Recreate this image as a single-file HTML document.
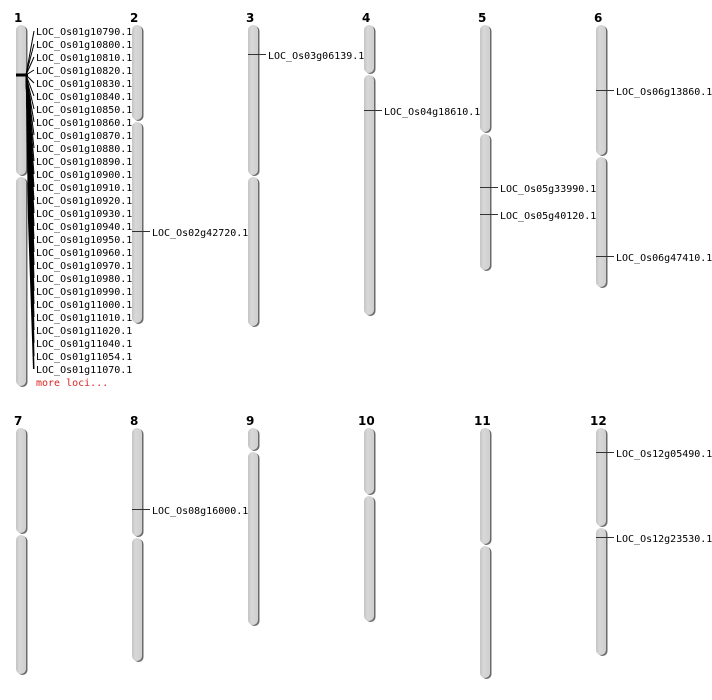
<!DOCTYPE html>
<html><head><meta charset="utf-8"><style>
html,body{margin:0;padding:0;background:#fff;width:712px;height:700px;overflow:hidden}
svg text{font-family:"DejaVu Sans Mono","Liberation Mono",monospace;font-size:10px;fill:#000}
svg text.n{font-family:"DejaVu Sans","Liberation Sans",sans-serif;font-weight:bold;font-size:12px}
</style></head><body>
<svg width="712" height="700" viewBox="0 0 712 700" xmlns="http://www.w3.org/2000/svg">
<defs>
<linearGradient id="g" x1="0" x2="1" y1="0" y2="0">
<stop offset="0" stop-color="#c4c4c4"/><stop offset="0.35" stop-color="#d8d8d8"/><stop offset="1" stop-color="#cfcfcf"/>
</linearGradient>
</defs>
<g stroke="none">
<!-- shadows -->
<g fill="#6a6a6a">
<rect x="17.5" y="26" width="10" height="150" rx="5"/><rect x="17.5" y="178" width="10" height="209" rx="5"/>
<rect x="133.5" y="26" width="10" height="95" rx="5"/><rect x="133.5" y="123" width="10" height="201" rx="5"/>
<rect x="249.5" y="26" width="10" height="150" rx="5"/><rect x="249.5" y="178" width="10" height="149" rx="5"/>
<rect x="365.5" y="26" width="10" height="48" rx="5"/><rect x="365.5" y="76" width="10" height="240" rx="5"/>
<rect x="481.5" y="26" width="10" height="107" rx="5"/><rect x="481.5" y="135" width="10" height="136" rx="5"/>
<rect x="597.5" y="26" width="10" height="130" rx="5"/><rect x="597.5" y="158" width="10" height="130" rx="5"/>
<rect x="17.5" y="429" width="10" height="105" rx="5"/><rect x="17.5" y="536" width="10" height="139" rx="5"/>
<rect x="133.5" y="429" width="10" height="108" rx="5"/><rect x="133.5" y="539" width="10" height="123" rx="5"/>
<rect x="249.5" y="429" width="10" height="22" rx="5"/><rect x="249.5" y="453" width="10" height="173" rx="5"/>
<rect x="365.5" y="429" width="10" height="66" rx="5"/><rect x="365.5" y="497" width="10" height="125" rx="5"/>
<rect x="481.5" y="429" width="10" height="116" rx="5"/><rect x="481.5" y="547" width="10" height="132" rx="5"/>
<rect x="597.5" y="429" width="10" height="98" rx="5"/><rect x="597.5" y="529" width="10" height="127" rx="5"/>
</g>
<g fill="url(#g)">
<rect x="16" y="25" width="10" height="150" rx="5"/><rect x="16" y="177" width="10" height="209" rx="5"/>
<rect x="132" y="25" width="10" height="95" rx="5"/><rect x="132" y="122" width="10" height="201" rx="5"/>
<rect x="248" y="25" width="10" height="150" rx="5"/><rect x="248" y="177" width="10" height="149" rx="5"/>
<rect x="364" y="25" width="10" height="48" rx="5"/><rect x="364" y="75" width="10" height="240" rx="5"/>
<rect x="480" y="25" width="10" height="107" rx="5"/><rect x="480" y="134" width="10" height="136" rx="5"/>
<rect x="596" y="25" width="10" height="130" rx="5"/><rect x="596" y="157" width="10" height="130" rx="5"/>
<rect x="16" y="428" width="10" height="105" rx="5"/><rect x="16" y="535" width="10" height="139" rx="5"/>
<rect x="132" y="428" width="10" height="108" rx="5"/><rect x="132" y="538" width="10" height="123" rx="5"/>
<rect x="248" y="428" width="10" height="22" rx="5"/><rect x="248" y="452" width="10" height="173" rx="5"/>
<rect x="364" y="428" width="10" height="66" rx="5"/><rect x="364" y="496" width="10" height="125" rx="5"/>
<rect x="480" y="428" width="10" height="116" rx="5"/><rect x="480" y="546" width="10" height="132" rx="5"/>
<rect x="596" y="428" width="10" height="98" rx="5"/><rect x="596" y="528" width="10" height="127" rx="5"/>
</g>
</g>
<!-- numbers -->
<text class="n" x="14" y="22">1</text><text class="n" x="130" y="22">2</text><text class="n" x="246" y="22">3</text>
<text class="n" x="362" y="22">4</text><text class="n" x="478" y="22">5</text><text class="n" x="594" y="22">6</text>
<text class="n" x="14" y="425">7</text><text class="n" x="130" y="425">8</text><text class="n" x="246" y="425">9</text>
<text class="n" x="358" y="425">10</text><text class="n" x="474" y="425">11</text><text class="n" x="590" y="425">12</text>
<!-- chr1 fan -->
<g stroke="#000" stroke-width="1" fill="none">
<line x1="26" y1="75" x2="34" y2="31"/><line x1="26" y1="75" x2="34" y2="44"/><line x1="26" y1="75" x2="34" y2="57"/>
<line x1="26" y1="75" x2="34" y2="70"/><line x1="26" y1="75" x2="34" y2="83"/><line x1="26" y1="75" x2="34" y2="96"/>
<line x1="26" y1="75" x2="34" y2="109"/><line x1="26" y1="75" x2="34" y2="122"/><line x1="26" y1="75" x2="34" y2="135"/>
<line x1="26" y1="75" x2="34" y2="148"/><line x1="26" y1="75" x2="34" y2="161"/><line x1="26" y1="75" x2="34" y2="174"/>
<line x1="26" y1="75" x2="34" y2="187"/><line x1="26" y1="75" x2="34" y2="200"/><line x1="26" y1="75" x2="34" y2="213"/>
<line x1="26" y1="75" x2="34" y2="226"/><line x1="26" y1="75" x2="34" y2="239"/><line x1="26" y1="75" x2="34" y2="252"/>
<line x1="26" y1="75" x2="34" y2="265"/><line x1="26" y1="75" x2="34" y2="278"/><line x1="26" y1="75" x2="34" y2="291"/>
<line x1="26" y1="75" x2="34" y2="304"/><line x1="26" y1="75" x2="34" y2="317"/><line x1="26" y1="75" x2="34" y2="330"/>
<line x1="26" y1="75" x2="34" y2="343"/><line x1="26" y1="75" x2="34" y2="356"/><line x1="26" y1="75" x2="34" y2="369"/>
</g>
<polygon points="26,75 31,100 34,369 33,369 28,220 26,90" fill="#000"/>
<rect x="16" y="73.5" width="12" height="3" fill="#000"/>
<text x="36" y="35">LOC_Os01g10790.1</text><text x="36" y="48">LOC_Os01g10800.1</text><text x="36" y="61">LOC_Os01g10810.1</text>
<text x="36" y="74">LOC_Os01g10820.1</text><text x="36" y="87">LOC_Os01g10830.1</text><text x="36" y="100">LOC_Os01g10840.1</text>
<text x="36" y="113">LOC_Os01g10850.1</text><text x="36" y="126">LOC_Os01g10860.1</text><text x="36" y="139">LOC_Os01g10870.1</text>
<text x="36" y="152">LOC_Os01g10880.1</text><text x="36" y="165">LOC_Os01g10890.1</text><text x="36" y="178">LOC_Os01g10900.1</text>
<text x="36" y="191">LOC_Os01g10910.1</text><text x="36" y="204">LOC_Os01g10920.1</text><text x="36" y="217">LOC_Os01g10930.1</text>
<text x="36" y="230">LOC_Os01g10940.1</text><text x="36" y="243">LOC_Os01g10950.1</text><text x="36" y="256">LOC_Os01g10960.1</text>
<text x="36" y="269">LOC_Os01g10970.1</text><text x="36" y="282">LOC_Os01g10980.1</text><text x="36" y="295">LOC_Os01g10990.1</text>
<text x="36" y="308">LOC_Os01g11000.1</text><text x="36" y="321">LOC_Os01g11010.1</text><text x="36" y="334">LOC_Os01g11020.1</text>
<text x="36" y="347">LOC_Os01g11040.1</text><text x="36" y="360">LOC_Os01g11054.1</text><text x="36" y="373">LOC_Os01g11070.1</text>
<text x="36" y="386" style="fill:#d22">more loci...</text>
<!-- other loci -->
<g stroke="#333" stroke-width="1">
<line x1="132" y1="231.5" x2="150" y2="231.5"/>
<line x1="248" y1="54.5" x2="266" y2="54.5"/>
<line x1="364" y1="110.5" x2="382" y2="110.5"/>
<line x1="480" y1="187.5" x2="498" y2="187.5"/>
<line x1="480" y1="214.5" x2="498" y2="214.5"/>
<line x1="596" y1="90.5" x2="614" y2="90.5"/>
<line x1="596" y1="256.5" x2="614" y2="256.5"/>
<line x1="132" y1="509.5" x2="150" y2="509.5"/>
<line x1="596" y1="452.5" x2="614" y2="452.5"/>
<line x1="596" y1="537.5" x2="614" y2="537.5"/>
</g>
<text x="152" y="236">LOC_Os02g42720.1</text>
<text x="268" y="59">LOC_Os03g06139.1</text>
<text x="384" y="115">LOC_Os04g18610.1</text>
<text x="500" y="192">LOC_Os05g33990.1</text>
<text x="500" y="219">LOC_Os05g40120.1</text>
<text x="616" y="95">LOC_Os06g13860.1</text>
<text x="616" y="261">LOC_Os06g47410.1</text>
<text x="152" y="514">LOC_Os08g16000.1</text>
<text x="616" y="457">LOC_Os12g05490.1</text>
<text x="616" y="542">LOC_Os12g23530.1</text>
</svg>
</body></html>
